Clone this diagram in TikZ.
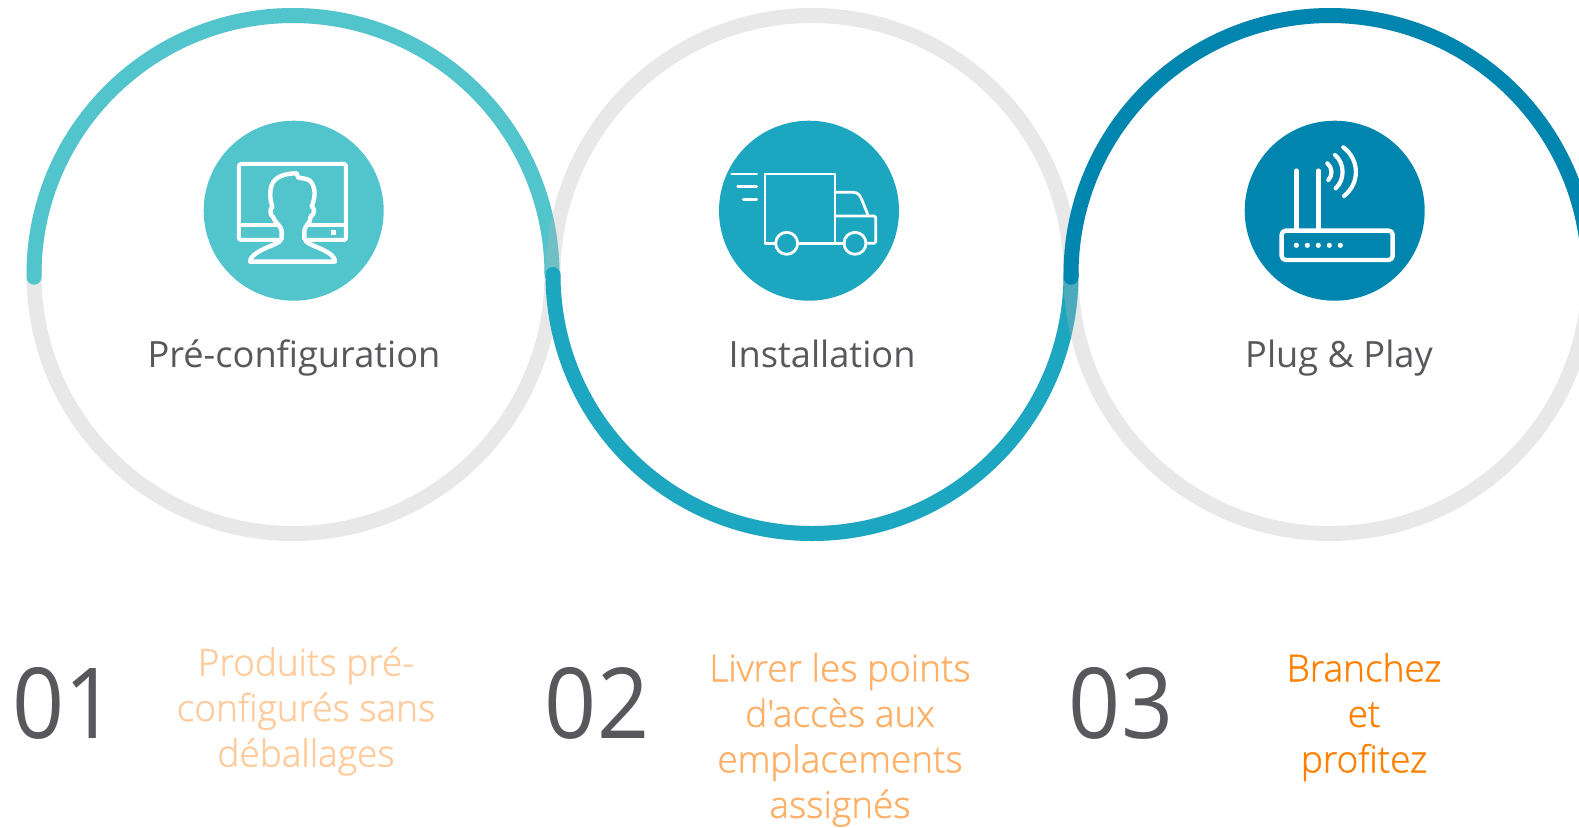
\documentclass[tikz,border=0pt]{standalone}
\usepackage{fontspec}
\setmainfont{Open Sans}
\newfontfamily\lightf[FakeBold=1.2]{Open Sans Light}
\definecolor{cA}{HTML}{52C4CC}
\definecolor{cB}{HTML}{1CA6BF}
\definecolor{cC}{HTML}{0086AE}
\definecolor{ringc}{HTML}{B5B5B5}
\definecolor{txt}{HTML}{58585C}
\definecolor{orA}{HTML}{FFCB9C}
\definecolor{orB}{HTML}{FFB066}
\definecolor{orC}{HTML}{FF8000}
\tikzset{
  ring/.style={draw=ringc,draw opacity=.31,line width=15pt},
  prog/.style={line width=15pt,line cap=round},
  disc/.style={circle,minimum size=180pt,inner sep=0pt},
  ttl/.style={anchor=base,text=txt,font=\fontsize{36.2}{36.2}\selectfont,inner sep=0pt},
  num/.style={anchor=base,text=txt,font=\fontsize{98}{98}\selectfont,inner sep=0pt,xscale=.93,transform shape},
  desc/.style={anchor=north,align=center,inner sep=0pt,font=\lightf\fontsize{37}{45.5}\selectfont},
  ico/.style={draw=white,line join=round,line cap=round},
  zoomed/.style={x=.3333pt,y=-.3333pt}
}
\begin{document}
\begin{tikzpicture}[x=1pt,y=-1pt]
\useasboundingbox (0,0) rectangle (1579,827);
\clip (0,0) rectangle (1579,827);
\coordinate (c1) at (293,274.5);
\coordinate (c2) at (812,274.5);
\coordinate (c3) at (1330,274.5);
% rings and progress arcs
\draw[ring] (c1) circle[radius=259pt];
\draw[prog,cA] (c1) ++(180.6:259pt) arc[start angle=180.6,end angle=0,radius=259pt];
\draw[ring] (c2) circle[radius=259pt];
\draw[prog,cB] (c2) ++(180:259pt) arc[start angle=180,end angle=360,radius=259pt];
\draw[ring] (c3) circle[radius=259pt];
\draw[prog,cC] (c3) ++(180.6:259pt) arc[start angle=180.6,end angle=0,radius=259pt];
% discs
\node[disc,fill=cA] (d1) at (293.7,210.7) {};
\node[disc,fill=cB] (d2) at (809,210.7) {};
\node[disc,fill=cC] (d3) at (1334.7,210.7) {};
% icon 1
\begin{scope}[shift={(190,110)},zoomed]
\draw[ico,line width=4pt,rounded corners=2pt] (147,162) rectangle (468,390);
\draw[ico,line width=4pt] (147,345) -- (468,345);
\fill[white] (423,359) rectangle (438,374);
\draw[ico,line width=4.4pt,fill=cA] (180,455) -- (435,455)
  .. controls (435,440) and (420,430) .. (400,420)
  .. controls (375,408) and (345,400) .. (343,385)
  -- (343,362)
  .. controls (345,345) and (362,340) .. (362,320)
  .. controls (375,312) and (375,295) .. (365,290)
  .. controls (375,265) and (380,235) .. (360,212)
  .. controls (350,205) and (335,205) .. (325,203)
  -- (320,190)
  .. controls (285,190) and (255,200) .. (245,225)
  .. controls (238,245) and (240,270) .. (247,290)
  .. controls (238,300) and (240,315) .. (250,322)
  .. controls (255,340) and (272,345) .. (275,362)
  -- (275,385)
  .. controls (272,400) and (245,405) .. (215,420)
  .. controls (200,428) and (180,440) .. (180,455) -- cycle;
\end{scope}
% icon 2
\begin{scope}[shift={(705,110)},zoomed]
\draw[ico,line width=2.8pt] (212,400) -- (180,400) -- (180,192) -- (390,192) -- (390,400);
\draw[ico,line width=2.8pt] (278,400) -- (418,400);
\draw[ico,line width=2.8pt,rounded corners=1.5pt] (483,400) -- (512,400) -- (512,318) -- (390,318);
\draw[ico,line width=2.8pt] (390,247) -- (445,247) .. controls (460,247) and (466,258) .. (470,268) -- (490,318);
\draw[ico,line width=2.8pt] (245,400) circle[radius=11pt];
\draw[ico,line width=2.8pt] (450,400) circle[radius=11pt];
\draw[ico,line width=2.8pt] (80,192) -- (155,192);
\draw[ico,line width=2.8pt] (98,230) -- (155,230);
\draw[ico,line width=2.8pt] (115,268) -- (155,268);
\end{scope}
% icon 3
\begin{scope}[shift={(1230,110)},zoomed]
\draw[ico,line width=4.4pt,rounded corners=4pt] (155,362) rectangle (488,450);
\draw[ico,line width=4.4pt] (199,182) -- (199,362);
\draw[ico,line width=4.4pt] (265,182) -- (265,362);
\foreach \xx in {199,232,265,298,331} \fill[white] (\xx,406) circle[radius=2.6pt];
\draw[ico,line width=4.2pt] (292,160) .. controls (308,172) and (308,198) .. (295,210);
\draw[ico,line width=4.2pt] (315,135) .. controls (345,160) and (345,210) .. (317,235);
\draw[ico,line width=4.2pt] (340,112) .. controls (390,150) and (390,220) .. (342,258);
\end{scope}
% titles
\node[ttl] (t1) at (294,367) {Pré-configuration};
\node[ttl] (t2) at (822,367) {Installation};
\node[ttl] (t3) at (1339,367) {Plug \& Play};
% numbers
\node[num] (n1) at (64.5,738) {01};
\node[num] (n2) at (597,738) {02};
\node[num] (n3) at (1121,738) {03};
% descriptions
\node[desc,text=orA] (x1) at (306,647) {Produits pré-\\configurés sans\\déballages};
\node[desc,text=orB] (x2) at (840,653) {Livrer les points\\d'accès aux\\emplacements\\assignés};
\node[desc,text=orC] (x3) at (1364,653) {Branchez\\et\\profitez};
\end{tikzpicture}
\end{document}
